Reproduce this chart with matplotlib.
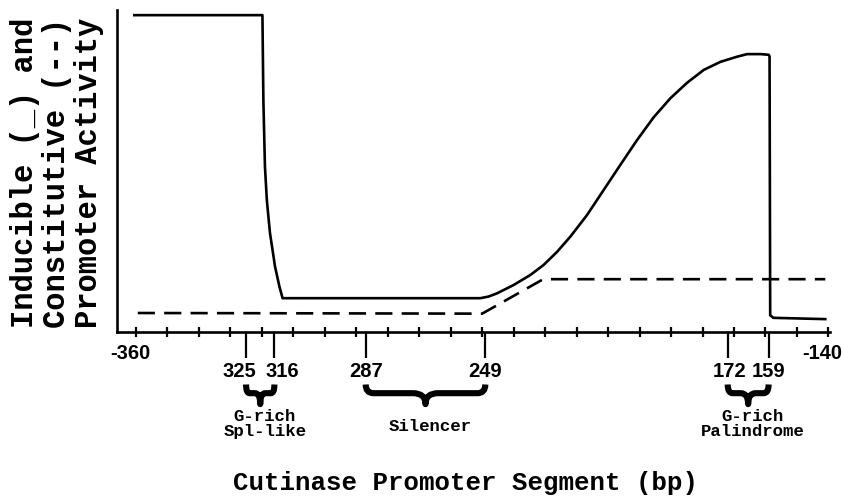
import numpy as np
import matplotlib.pyplot as plt
from matplotlib.path import Path
from matplotlib.patches import PathPatch
from matplotlib.transforms import blended_transform_factory

# Inducible promoter activity (solid line)
ind_x = [-360.5, -319.8, -319.5, -319.0, -318.4, -317.9, -317.4, -316.5,
         -315.8, -314.4, -313.4,
         -250.6, -248.0, -245.3, -240.0, -234.7, -230.5, -226.2, -222.0,
         -216.7, -211.4, -206.1, -200.8, -195.5, -190.2, -184.9, -179.6,
         -174.3, -169.0, -165.8, -161.6, -159.0, -158.7, -158.5, -157.5,
         -141.0]
ind_y = [98.4, 98.4, 72.0, 51.3, 41.0, 35.8, 30.7, 24.9,
         20.3, 14.1, 10.5,
         10.5, 11.0, 12.0, 14.6, 17.7, 20.8, 24.9, 29.6,
         36.3, 44.1, 51.9, 59.6, 66.7, 72.6, 77.4, 81.4,
         83.9, 85.5, 86.3, 86.3, 86.1, 85.6, 5.2, 4.4,
         4.0]

# Constitutive promoter activity (dashed line)
con_x = [-359.4, -250.0, -230.6, -141.0]
con_y = [5.9, 5.7, 16.4, 16.4]

# x axis: minor ticks every 10 bp, end labels, and marked segment boundaries
tick_pos = np.arange(-360, -139, 10)
end_labels = [-360, -140]
site_pos = [325, 316, 287, 249, 172, 159]
site_shift = {325: -7, 316: 8, 172: 2}

# braces under the promoter elements
elements = [
    (325, 316, "G-rich\nSpl-like"),
    (287, 249, "Silencer"),
    (172, 159, "G-rich\nPalindrome"),
]

mono = "Liberation Mono"
sans = "Liberation Sans"

fig = plt.figure(figsize=(8.45, 4.98), dpi=100)
ax = fig.add_axes([117 / 845, 1 - 332 / 498, 713 / 845, 322 / 498])

ax.plot(ind_x, ind_y, color="black", lw=1.9, solid_joinstyle="round")
ax.plot(con_x, con_y, color="black", lw=1.9, dashes=(6.5, 3.5))

ax.set_xlim(-366, -139.5)
ax.set_ylim(0, 100)

for s in ["top", "right"]:
    ax.spines[s].set_visible(False)
ax.spines["left"].set_linewidth(1.9)
ax.spines["bottom"].set_linewidth(1.9)
ax.set_yticks([])

ax.set_xticks(tick_pos)
ax.set_xticklabels([])
ax.tick_params(axis="x", which="major", direction="inout", length=7.5, width=1.6)
ax.set_xticks([-v for v in site_pos], minor=True)
ax.tick_params(axis="x", which="minor", direction="out", length=18.5, width=1.6)

trans = blended_transform_factory(ax.transData, ax.transAxes)

for v in end_labels:
    ax.annotate(str(v), xy=(v, -0.066), xycoords=trans, xytext=(-6, 0),
                textcoords="offset pixels", ha="center", va="center",
                fontsize=14.5, fontweight="bold", family=sans,
                annotation_clip=False)

for v in site_pos:
    ax.annotate(str(v), xy=(-v, -0.122), xycoords=trans,
                xytext=(site_shift.get(v, 0), 0), textcoords="offset pixels",
                ha="center", va="center", fontsize=14.5, fontweight="bold",
                family=sans, annotation_clip=False)


def brace(x0, x1, r, c, yt=-0.163, ym=-0.19, yb=-0.224):
    xc = (x0 + x1) / 2
    verts = [(x0, yt), (x0, ym), (x0 + r, ym), (xc - c, ym),
             (xc, ym), (xc, yb), (xc, ym), (xc + c, ym),
             (x1 - r, ym), (x1, ym), (x1, yt)]
    codes = [Path.MOVETO, Path.CURVE3, Path.CURVE3, Path.LINETO,
             Path.CURVE3, Path.CURVE3, Path.CURVE3, Path.CURVE3,
             Path.LINETO, Path.CURVE3, Path.CURVE3]
    patch = PathPatch(Path(verts, codes), transform=trans, fill=False,
                      lw=4.4, edgecolor="black", clip_on=False,
                      capstyle="butt", joinstyle="round")
    ax.add_patch(patch)


for a, b, label in elements:
    width = a - b
    brace(-a, -b, min(2.5, width * 0.12), min(4.0, width * 0.18))
    ypos = -0.292 if "\n" not in label else -0.285
    ax.text((-a - b) / 2 + 1.5, ypos, label, transform=trans, ha="center",
            va="center", fontsize=12.5, fontweight="bold", family=mono,
            linespacing=1.0)

fig.text(57 / 845, 1 - 173 / 498,
         "Inducible (_) and\nConstitutive (--)\nPromoter Activity",
         rotation=90, ha="center", va="center", fontsize=22,
         fontweight="bold", family=mono, linespacing=1.07)

fig.text(466 / 845, 1 - 483 / 498, "Cutinase Promoter Segment (bp)",
         ha="center", va="center", fontsize=18.5, fontweight="bold",
         family=mono)

fig.savefig("out.png", dpi=100)
